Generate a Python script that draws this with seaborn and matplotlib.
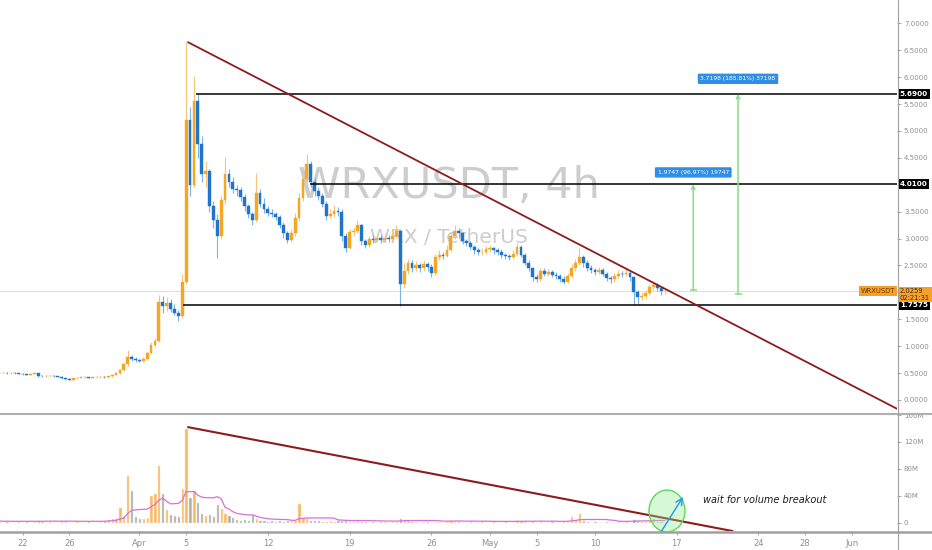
import pandas as pd
import numpy as np
import matplotlib
matplotlib.use("Agg")
import matplotlib.pyplot as plt
import matplotlib.dates as mdates
from matplotlib.patches import Ellipse
from matplotlib.lines import Line2D
from matplotlib import font_manager
import seaborn as sns

# WRX/USDT, 8h candles (open = previous close)
first_open = 0.51
close = [0.51, 0.51, 0.50, 0.51, 0.50, 0.49, 0.48, 0.47, 0.49, 0.50,
         0.45, 0.44, 0.45, 0.45, 0.44, 0.43, 0.40, 0.39, 0.38, 0.40,
         0.41, 0.42, 0.42, 0.41, 0.42, 0.42, 0.43, 0.42, 0.44, 0.47,
         0.50, 0.55, 0.66, 0.80, 0.76, 0.74, 0.72, 0.76, 0.88, 1.02,
         1.10, 1.82, 1.74, 1.80, 1.70, 1.62, 1.56, 2.20, 5.20, 4.00,
         5.55, 4.75, 4.20, 4.25, 3.60, 3.35, 3.05, 3.72, 4.20, 4.05,
         3.92, 3.90, 3.78, 3.60, 3.45, 3.35, 3.85, 3.65, 3.55, 3.48,
         3.45, 3.40, 3.25, 3.10, 2.98, 3.10, 3.38, 3.75, 4.10, 4.38,
         4.05, 3.88, 3.80, 3.65, 3.42, 3.45, 3.52, 3.50, 3.05, 2.82,
         3.12, 3.15, 3.25, 2.95, 2.88, 3.00, 2.98, 3.02, 2.98, 3.02,
         3.00, 3.05, 3.15, 2.15, 2.40, 2.55, 2.45, 2.50, 2.45, 2.52,
         2.48, 2.36, 2.65, 2.70, 2.68, 2.78, 3.05, 3.15, 3.10, 2.95,
         2.92, 2.85, 2.78, 2.75, 2.76, 2.80, 2.82, 2.78, 2.76, 2.70,
         2.68, 2.66, 2.72, 2.84, 2.70, 2.55, 2.45, 2.28, 2.25, 2.40,
         2.35, 2.38, 2.33, 2.30, 2.25, 2.20, 2.30, 2.45, 2.55, 2.65,
         2.55, 2.45, 2.42, 2.38, 2.42, 2.35, 2.27, 2.24, 2.30, 2.35,
         2.34, 2.36, 2.28, 2.00, 1.92, 1.93, 1.98, 2.10, 2.14, 2.08,
         2.02, 2.03]
high = [0.53, 0.52, 0.52, 0.52, 0.52, 0.51, 0.50, 0.49, 0.50, 0.52,
        0.51, 0.46, 0.47, 0.47, 0.46, 0.45, 0.44, 0.41, 0.40, 0.41,
        0.43, 0.43, 0.44, 0.43, 0.43, 0.44, 0.44, 0.44, 0.45, 0.48,
        0.52, 0.57, 0.68, 0.92, 0.84, 0.79, 0.76, 0.79, 0.90, 1.08,
        1.16, 1.95, 1.94, 1.92, 1.88, 1.78, 1.68, 2.35, 6.65, 5.45,
        6.02, 5.70, 4.90, 4.45, 4.30, 3.70, 3.45, 3.80, 4.52, 4.30,
        4.15, 4.00, 3.95, 3.82, 3.65, 3.50, 4.21, 3.92, 3.75, 3.60,
        3.55, 3.50, 3.44, 3.30, 3.15, 3.18, 3.48, 3.85, 4.25, 4.58,
        4.45, 4.12, 3.95, 3.85, 3.70, 3.55, 3.62, 3.58, 3.55, 3.10,
        3.18, 3.22, 3.35, 3.28, 3.00, 3.05, 3.06, 3.08, 3.06, 3.08,
        3.06, 3.12, 3.25, 3.18, 2.55, 2.62, 2.60, 2.58, 2.55, 2.60,
        2.56, 2.52, 2.72, 2.78, 2.76, 2.88, 3.12, 3.25, 3.20, 3.12,
        3.00, 2.95, 2.88, 2.82, 2.82, 2.86, 2.88, 2.85, 2.82, 2.80,
        2.74, 2.72, 2.78, 2.92, 2.88, 2.74, 2.60, 2.48, 2.34, 2.46,
        2.45, 2.44, 2.42, 2.38, 2.34, 2.30, 2.36, 2.52, 2.62, 2.82,
        2.70, 2.60, 2.50, 2.46, 2.48, 2.46, 2.38, 2.30, 2.36, 2.42,
        2.40, 2.45, 2.40, 2.30, 2.05, 2.00, 2.04, 2.15, 2.19, 2.17,
        2.10, 2.08]
low = [0.50, 0.50, 0.49, 0.49, 0.49, 0.48, 0.47, 0.46, 0.46, 0.48,
       0.43, 0.42, 0.43, 0.44, 0.43, 0.42, 0.39, 0.38, 0.37, 0.37,
       0.39, 0.40, 0.41, 0.40, 0.40, 0.41, 0.41, 0.41, 0.41, 0.43,
       0.46, 0.49, 0.54, 0.64, 0.72, 0.71, 0.70, 0.71, 0.75, 0.86,
       0.98, 1.08, 1.62, 1.66, 1.64, 1.58, 1.46, 1.52, 2.15, 3.80,
       3.95, 4.50, 4.05, 3.95, 3.50, 3.20, 2.63, 3.00, 3.65, 3.95,
       3.85, 3.80, 3.70, 3.52, 3.38, 3.25, 3.30, 3.58, 3.48, 3.42,
       3.40, 3.35, 3.20, 3.02, 2.92, 2.94, 3.05, 3.32, 3.70, 4.05,
       3.95, 3.80, 3.72, 3.58, 3.35, 3.38, 3.40, 3.42, 2.95, 2.75,
       2.80, 3.05, 3.10, 2.88, 2.82, 2.85, 2.92, 2.93, 2.92, 2.94,
       2.94, 2.96, 3.02, 1.75, 2.08, 2.35, 2.38, 2.40, 2.38, 2.40,
       2.40, 2.28, 2.33, 2.60, 2.62, 2.65, 2.75, 3.00, 3.02, 2.90,
       2.86, 2.80, 2.72, 2.70, 2.70, 2.72, 2.76, 2.72, 2.70, 2.64,
       2.62, 2.60, 2.62, 2.68, 2.65, 2.50, 2.40, 2.22, 2.20, 2.22,
       2.30, 2.30, 2.28, 2.25, 2.20, 2.15, 2.17, 2.26, 2.40, 2.50,
       2.48, 2.40, 2.36, 2.32, 2.34, 2.30, 2.22, 2.18, 2.20, 2.27,
       2.28, 2.30, 2.22, 1.77, 1.78, 1.85, 1.88, 1.95, 2.05, 2.02,
       1.96, 1.97]
# volume in millions
volume_m = [3, 2, 3, 2, 2, 3, 2, 3, 2, 3,
            4, 3, 2, 3, 2, 2, 3, 3, 2, 2,
            3, 2, 2, 3, 2, 2, 3, 4, 6, 7,
            8, 24, 12, 71, 49, 10, 8, 7, 9, 41,
            45, 86, 44, 20, 14, 12, 11, 52, 141, 38,
            49, 31, 15, 12, 13, 10, 28, 22, 15, 12,
            9, 6, 5, 6, 5, 13, 8, 4, 4, 3,
            4, 3, 4, 3, 4, 4, 5, 30, 9, 7,
            5, 4, 4, 3, 3, 4, 3, 4, 5, 4,
            3, 3, 4, 3, 3, 2, 3, 2, 3, 3,
            2, 3, 3, 7, 6, 4, 3, 3, 2, 3,
            3, 2, 3, 3, 2, 3, 4, 3, 3, 2,
            2, 3, 2, 2, 3, 2, 2, 3, 2, 2,
            3, 2, 2, 4, 3, 3, 2, 3, 2, 3,
            2, 2, 3, 2, 2, 3, 3, 10, 6, 15,
            5, 3, 2, 3, 2, 2, 3, 2, 2, 3,
            2, 3, 2, 6, 4, 3, 3, 4, 7, 3,
            3, 2]

# drawings on the chart
trend_price_t = ["2021-04-05 04:00", "2021-06-10 00:00"]
trend_price_v = [6.65, -0.74]
trend_vol_t = ["2021-04-05 04:00", "2021-05-21 19:00"]
trend_vol_v = [142, -12]
levels = [5.69, 4.01, 1.7575]
level_start = ["2021-04-05 20:00", "2021-04-15 14:00", "2021-04-04 17:30"]
level_labels = ["5.6900", "4.0100", "1.7575"]
last_price = 2.0259
meas_t = ["2021-05-18 10:00", "2021-05-22 06:00"]
meas_lo = [2.0353, 1.9702]
meas_hi = [4.01, 5.69]
meas_label_y = [4.23, 5.97]
meas_text = ["1.9747 (96.97%) 19747", "3.7198 (185.81%) 37198"]

date_ticks = ["2021-03-22", "2021-03-26", "2021-04-01", "2021-04-05", "2021-04-12",
              "2021-04-19", "2021-04-26", "2021-05-01", "2021-05-05", "2021-05-10",
              "2021-05-17", "2021-05-24", "2021-05-28", "2021-06-01"]
date_labels = ["22", "26", "Apr", "5", "12", "19", "26", "May", "5", "10", "17", "24", "28", "Jun"]
price_ticks = [0, 0.5, 1, 1.5, 2, 2.5, 3, 3.5, 4, 4.5, 5, 5.5, 6, 6.5, 7]
# 2.0000 and 4.0000 sit under the price boxes on the scale
price_labels = ["0.0000", "0.5000", "1.0000", "1.5000", "", "2.5000", "3.0000", "3.5000",
                "", "4.5000", "5.0000", "5.5000", "6.0000", "6.5000", "7.0000"]
vol_ticks = [0, 40, 80, 120, 160]
vol_labels = ["0", "40M", "80M", "120M", "160M"]

sns.set_theme(style="white")
plt.rcParams["font.family"] = ["DejaVu Sans"]

times = pd.date_range("2021-03-20 00:00", periods=len(close), freq="8h")
df = pd.DataFrame({"t": mdates.date2num(times), "close": close, "high": high,
                   "low": low, "volume": volume_m})
df["open"] = df["close"].shift(1).fillna(first_open)
df["up"] = df["close"] >= df["open"]
df["vol_ma"] = df["volume"].rolling(10, min_periods=1).mean()

x_left = mdates.datestr2num("2021-03-20 01:35")
x_right = mdates.datestr2num("2021-06-04 20:40")

fig = plt.figure(figsize=(9.32, 5.5), dpi=100)
fig.patch.set_facecolor("white")
ax = fig.add_axes([0, 137 / 550, 897 / 932, 413 / 550])
axv = fig.add_axes([0, 19 / 550, 897 / 932, 116 / 550])

# watermark
names = {f.name for f in font_manager.fontManager.ttflist}
if "Liberation Sans Narrow" in names:
    wm_family, wm_size = "Liberation Sans Narrow", 38
else:
    wm_family, wm_size = "DejaVu Sans", 31
ax.text(0.5, 3.754, "WRXUSDT, 4h", transform=ax.get_yaxis_transform(), ha="center",
        va="baseline", fontsize=wm_size, family=wm_family, color="#cdcdcd", zorder=1)
ax.text(0.5, 2.918, "WRX / TetherUS", transform=ax.get_yaxis_transform(), ha="center",
        va="baseline", fontsize=14.5, color="#cdcdcd", zorder=1)

# candles
up_body, dn_body = "#f5a623", "#1f74cc"
up_wick, dn_wick = "#f8c47a", "#7db3e6"
body_col = np.where(df["up"], up_body, dn_body)
wick_col = np.where(df["up"], up_wick, dn_wick)
ax.vlines(df["t"], df["low"], df["high"], colors=wick_col, lw=0.8, zorder=3)
ax.bar(df["t"], df["close"] - df["open"], bottom=df["open"], width=0.24,
       color=body_col, edgecolor=body_col, lw=0.3, zorder=4)

ax.axhline(last_price, color="#f6a02a", lw=0.6, alpha=0.45, zorder=2)

# support / resistance lines
for lvl, start, lbl in zip(levels, level_start, level_labels):
    ax.hlines(lvl, mdates.datestr2num(start), x_right, color="black", lw=1.1, zorder=5)
    ax.annotate(lbl, xy=(1, lvl), xycoords=ax.get_yaxis_transform(), xytext=(2, 0),
                textcoords="offset points", ha="left", va="center", fontsize=5.2,
                color="white", fontweight="bold", annotation_clip=False, zorder=10,
                bbox=dict(boxstyle="square,pad=0.25", fc="black", ec="none"))

# descending trendline
ax.plot(mdates.datestr2num(trend_price_t), trend_price_v, color="#8e1b1b", lw=1.3, zorder=6)

# measurements
green = "#84e084"
for t, lo, hi, ly, txt in zip(meas_t, meas_lo, meas_hi, meas_label_y, meas_text):
    tn = mdates.datestr2num(t)
    ax.annotate("", xy=(tn, hi), xytext=(tn, lo),
                arrowprops=dict(arrowstyle="->", color=green, lw=1.1, shrinkA=0, shrinkB=0,
                                mutation_scale=6), zorder=6)
    ax.hlines(lo, tn - 0.3, tn + 0.3, color=green, lw=1.1, zorder=6)
    ax.text(tn, ly, txt, ha="center", va="center", fontsize=4.3, color="white", zorder=8,
            bbox=dict(boxstyle="round,pad=0.45,rounding_size=0.2", fc="#2f8fe6", ec="none"))

# last price boxes
ax.annotate("2.0259\n02:21:31", xy=(1, last_price), xycoords=ax.get_yaxis_transform(),
            xytext=(2, -2.5), textcoords="offset points", ha="left", va="center",
            fontsize=4.9, color="#3b2a14", linespacing=1.05, annotation_clip=False, zorder=10,
            bbox=dict(boxstyle="square,pad=0.25", fc="#f6a02a", ec="none"))
ax.annotate("WRXUSDT", xy=(1, last_price), xycoords=ax.get_yaxis_transform(),
            xytext=(-1.5, 0), textcoords="offset points", ha="right", va="center",
            fontsize=4.9, color="#6b3c00", annotation_clip=False, zorder=10,
            bbox=dict(boxstyle="square,pad=0.3", fc="#f6a02a", ec="none"))

ax.set_xlim(x_left, x_right)
ax.set_ylim(-0.242, 7.435)
ax.yaxis.tick_right()
ax.set_yticks(price_ticks)
ax.set_yticklabels(price_labels)
ax.tick_params(axis="y", right=True, left=False, length=3, width=0.6, color="#9a9a9a",
               labelcolor="#8f8f8f", labelsize=5.0, pad=2)
ax.tick_params(axis="x", bottom=False, labelbottom=False)
ax.set_facecolor("white")
for s in ax.spines.values():
    s.set_visible(False)

# volume panel
vol_col = np.where(df["up"], "#f7ad4a", "#a0a0a0")
axv.bar(df["t"], df["volume"], width=0.28, color=vol_col, alpha=0.85, zorder=2)
sns.lineplot(data=df, x="t", y="vol_ma", ax=axv, color="#d870dc", linewidth=0.9, zorder=3)
axv.plot(mdates.datestr2num(trend_vol_t), trend_vol_v, color="#8e1b1b", lw=1.5, zorder=4)

axv.add_patch(Ellipse((mdates.datestr2num("2021-05-16 04:00"), 17.8), width=3.08, height=62,
                      fc=(0.56, 0.93, 0.56, 0.35), ec="#5ad85a", lw=1, zorder=5, clip_on=False))
axv.annotate("", xy=(mdates.datestr2num("2021-05-17 13:00"), 38.5),
             xytext=(mdates.datestr2num("2021-05-15 16:00"), -13),
             arrowprops=dict(arrowstyle="->", color="#2196f3", lw=1.0, shrinkA=0, shrinkB=0),
             annotation_clip=False, zorder=6)
axv.text(mdates.datestr2num("2021-05-19 06:00"), 34, "wait for volume breakout",
         fontsize=7, style="italic", color="#1a1a1a", ha="left", va="center", zorder=6)

axv.set_xlabel("")
axv.set_ylabel("")
axv.set_xlim(x_left, x_right)
axv.set_ylim(-11.9, 160)
axv.yaxis.tick_right()
axv.set_yticks(vol_ticks)
axv.set_yticklabels(vol_labels)
axv.set_xticks(mdates.datestr2num(date_ticks))
axv.set_xticklabels(date_labels)
axv.tick_params(axis="y", right=True, left=False, length=3, width=0.6, color="#9a9a9a",
                labelcolor="#8f8f8f", labelsize=5.0, pad=2)
axv.tick_params(axis="x", bottom=True, length=3, width=0.6, color="#9a9a9a",
                labelcolor="#8f8f8f", labelsize=6.0, pad=2.5)
axv.set_facecolor("white")
for s in axv.spines.values():
    s.set_visible(False)

# pane separators and price scale border
fig.add_artist(Line2D([0, 1], [136.5 / 550] * 2, color="#b0b0b0", lw=1.5))
fig.add_artist(Line2D([0, 1], [18.5 / 550] * 2, color="#a0a0a0", lw=1.8))
fig.add_artist(Line2D([897.5 / 932] * 2, [0, 1], color="#a0a0a0", lw=0.8))

fig.savefig("out.png", dpi=100)
